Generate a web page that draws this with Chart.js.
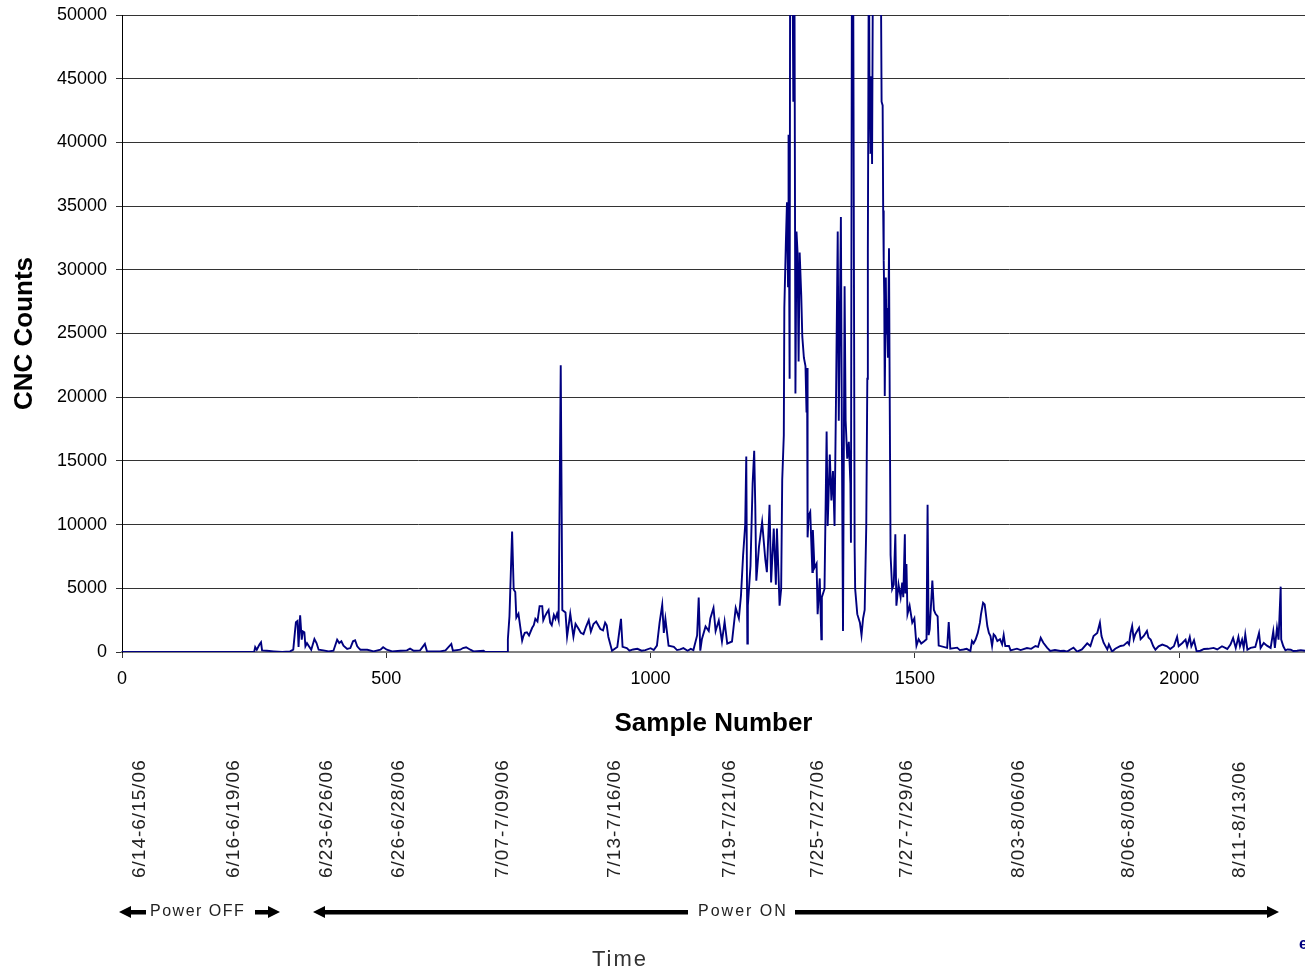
<!DOCTYPE html>
<html>
<head>
<meta charset="utf-8">
<title>CNC Counts</title>
<script src="https://cdn.jsdelivr.net/npm/chart.js@4/dist/chart.umd.min.js"></script>
<style>
  body { margin: 0; background: #fff; }
  #canvas { display: block; }
</style>
</head>
<body>
<canvas id="canvas" width="1305" height="971"></canvas>
<script>
//Datos: número de muestra y cuentas CNC
var muestras = [
  0, 250, 252, 255, 260, 263, 265, 274, 287, 303, 318, 324, 327, 329, 332, 334, 337, 340, 342, 345,
  347, 350, 353, 358, 364, 368, 372, 381, 391, 400, 407, 411, 415, 419, 426, 432, 437, 441, 445, 448,
  451, 464, 476, 489, 494, 501, 511, 527, 539, 545, 552, 564, 573, 577, 602, 612, 623, 626, 640, 645,
  651, 659, 665, 684, 687, 729, 730, 733, 738, 741, 744, 746, 750, 755, 759, 766, 776, 782, 790, 795,
  797, 804, 810, 817, 823, 826, 830, 833, 839, 842, 848, 854, 864, 873, 883, 892, 905, 914, 920, 927,
  937, 944, 947, 955, 967, 990, 1012, 1017, 1022, 1025, 1028, 1034, 1044, 1056, 1081, 1088, 1091, 1094, 1097, 1104,
  1110, 1113, 1119, 1123, 1129, 1135, 1140, 1145, 1154, 1161, 1167, 1171, 1175, 1179, 1181, 1183, 1184, 1189, 1193, 1196,
  1198, 1200, 1205, 1211, 1217, 1220, 1225, 1228, 1233, 1237, 1239, 1244, 1247, 1249, 1252, 1253, 1256, 1258, 1260, 1261,
  1263, 1264, 1268, 1270, 1272, 1274, 1276, 1278, 1280, 1282, 1285, 1287, 1290, 1293, 1295, 1296, 1297, 1299, 1302, 1306,
  1307, 1310, 1314, 1316, 1320, 1323, 1324, 1329, 1333, 1335, 1339, 1342, 1345, 1348, 1351, 1354, 1356, 1360, 1362, 1364,
  1367, 1369, 1372, 1375, 1378, 1379, 1381, 1383, 1386, 1387, 1391, 1396, 1399, 1402, 1405, 1408, 1410, 1411, 1413, 1414,
  1416, 1417, 1419, 1421, 1435, 1437, 1439, 1440, 1441, 1442, 1443, 1445, 1446, 1447, 1449, 1451, 1452, 1454, 1457, 1460,
  1463, 1465, 1469, 1473, 1476, 1478, 1481, 1482, 1484, 1486, 1490, 1495, 1499, 1503, 1507, 1512, 1517, 1522, 1524, 1526,
  1528, 1533, 1536, 1539, 1543, 1545, 1561, 1564, 1567, 1580, 1592, 1605, 1608, 1611, 1615, 1619, 1623, 1625, 1629, 1632,
  1634, 1637, 1640, 1643, 1646, 1649, 1652, 1656, 1661, 1665, 1668, 1671, 1678, 1681, 1693, 1712, 1728, 1738, 1743, 1750,
  1756, 1775, 1788, 1800, 1807, 1816, 1826, 1832, 1838, 1845, 1850, 1853, 1857, 1864, 1867, 1873, 1879, 1889, 1895, 1902,
  1905, 1908, 1911, 1914, 1917, 1924, 1927, 1933, 1939, 1942, 1946, 1951, 1955, 1961, 1968, 1977, 1983, 1990, 1996, 1999,
  2006, 2012, 2015, 2020, 2023, 2028, 2033, 2047, 2065, 2081, 2091, 2097, 2102, 2107, 2112, 2115, 2119, 2122, 2125, 2129,
  2135, 2144, 2151, 2154, 2160, 2166, 2173, 2178, 2181, 2185, 2188, 2192, 2193, 2197, 2201, 2211, 2223, 2238
];

var cuentasCNC = [
  0, 0, 390, 180, 580, 760, 130, 100, 50, 0, 50, 180, 1500, 2330, 2440, 400, 2880, 970, 1620, 1550,
  450, 700, 500, 180, 1020, 700, 180, 130, 50, 100, 970, 700, 840, 500, 240, 310, 840, 920, 450, 310,
  180, 180, 50, 180, 370, 180, 50, 100, 130, 260, 100, 130, 630, 50, 50, 130, 630, 100, 180, 310,
  370, 180, 50, 100, 0, 0, 1000, 2800, 9450, 4900, 4700, 2700, 3000, 1500, 1200, 1550, 1900, 2600, 3600, 3600,
  2500, 3100, 2300, 2900, 3000, 2500, 22500, 3300, 3100, 1200, 3000, 1200, 1800, 1400, 2500, 2200, 1800, 2300, 1200, 100,
  400, 2600, 400, 300, 200, 150, 500, 2300, 3700, 1500, 2600, 500, 400, 200, 150, 1300, 4270, 100, 1000, 2000,
  1650, 2640, 3460, 1650, 2475, 825, 2375, 660, 825, 3460, 2640, 4450, 7600, 10000, 15350, 660, 3630, 6770, 13200, 15800,
  11550, 5600, 8250, 10200, 7260, 6270, 11550, 5450, 9700, 5280, 9700, 3630, 4950, 13500, 17000, 27000, 32300, 35300, 28700, 40600,
  21450, 56000, 58000, 43200, 56000, 20300, 33000, 31350, 22800, 31350, 28000, 24750, 23100, 22440, 18800, 22300, 9000, 10700, 11000, 6270,
  9570, 6600, 6930, 2970, 5775, 1000, 4300, 4950, 17300, 9900, 15500, 11900, 14200, 9900, 20800, 33000, 18150, 34150, 15800, 1650,
  28700, 18150, 15180, 16500, 13200, 8580, 58000, 58000, 8250, 4950, 2970, 2300, 1320, 2640, 3300, 9900, 21450, 31350, 58000, 45200,
  39100, 45200, 38300, 58000, 58000, 43200, 42900, 34650, 30700, 28000, 20100, 29400, 25000, 27000, 23100, 31700, 22800, 7600, 4950, 5300,
  9240, 3630, 5300, 4300, 5450, 4300, 9240, 4600, 6900, 2970, 3630, 2300, 2640, 500, 1000, 660, 825, 1000, 11550, 1320,
  1800, 5600, 3300, 3000, 2800, 500, 330, 2350, 260, 340, 200, 80, 860, 680, 1000, 1500, 2300, 2950, 3860, 3730,
  3080, 2040, 1500, 1250, 470, 1380, 1250, 860, 1000, 600, 1330, 470, 470, 130, 260, 310, 470, 1120, 730, 340,
  80, 80, 30, 340, 30, 200, 680, 470, 1250, 1500, 2300, 1250, 730, 200, 600, 30, 260, 470, 520, 780,
  600, 1500, 2040, 1000, 1400, 1900, 1000, 1260, 1650, 1130, 970, 450, 180, 450, 580, 450, 240, 450, 1180, 450,
  710, 970, 450, 1180, 450, 920, 50, 240, 320, 450, 240, 580, 1100, 320, 1180, 450, 970, 320, 1370, 180,
  320, 400, 1500, 320, 710, 500, 320, 1630, 320, 1890, 970, 5130, 970, 450, 130, 180, 100, 100
];

//Lecturas adicionales del ruido de fondo (se mezclan y ordenan con las anteriores)
var muestrasRuido = [
  757, 762, 770, 779, 786, 800, 807, 813, 820, 858, 868, 878, 887, 897, 910, 917,
  960, 975, 983, 1000, 1006, 1050, 1062, 1070, 1076, 1585, 1598, 1700, 1720, 1733,
  1765, 1782, 1794, 2040, 2055, 2072, 2205, 2216, 2230
];
var cuentasRuido = [
  900, 1500, 1300, 2100, 2400, 2800, 3300, 2100, 2600, 2200, 1500, 2000, 1600, 2400, 1700, 2100,
  100, 250, 100, 300, 150, 150, 300, 100, 250, 150, 250, 150, 250, 400,
  150, 100, 200, 100, 250, 200, 200, 80, 150
];

//Etiquetas de fecha bajo el eje (posición aproximada en número de muestra)
var fechas = ['6/14-6/15/06', '6/16-6/19/06', '6/23-6/26/06', '6/26-6/28/06', '7/07-7/09/06', '7/13-7/16/06',
  '7/19-7/21/06', '7/25-7/27/06', '7/27-7/29/06', '8/03-8/06/06', '8/06-8/08/06', '8/11-8/13/06'];
var fechasMuestra = [33, 212, 387, 524, 720, 933, 1149, 1317, 1484, 1696, 1904, 2114];

var ticksY = [0, 5000, 10000, 15000, 20000, 25000, 30000, 35000, 40000, 45000, 50000];
var ticksX = [0, 500, 1000, 1500, 2000];

var puntos = [];
for (var i = 0; i < muestras.length; i++) {
  puntos.push({ x: muestras[i], y: cuentasCNC[i] });
}
for (var j = 0; j < muestrasRuido.length; j++) {
  puntos.push({ x: muestrasRuido[j], y: cuentasRuido[j] });
}
puntos.sort(function(a, b) { return a.x - b.x; });

//Dibuja una flecha horizontal gruesa con punta
function flecha(ctx, x1, x2, y, punta) {
  ctx.fillStyle = '#000';
  ctx.fillRect(Math.min(x1, x2), y - 2, Math.abs(x2 - x1), 4.5);
  if (punta) {
    var dir = x2 > x1 ? 1 : -1;
    ctx.beginPath();
    ctx.moveTo(x2 + dir * 12, y);
    ctx.lineTo(x2, y - 6);
    ctx.lineTo(x2, y + 6);
    ctx.closePath();
    ctx.fill();
  }
}

//Plugin para el texto y flechas de debajo del gráfico
var pieGrafico = {
  id: 'pieGrafico',
  afterDraw: function(chart) {
    var ctx = chart.ctx;
    var escalaX = chart.scales.x;
    ctx.save();
    ctx.fillStyle = '#222';
    ctx.font = '19px "Liberation Sans", Arial, sans-serif';
    ctx.letterSpacing = '1px';
    ctx.textAlign = 'left';
    ctx.textBaseline = 'middle';
    for (var i = 0; i < fechas.length; i++) {
      var px = escalaX.getPixelForValue(fechasMuestra[i]);
      ctx.save();
      ctx.translate(px, 878);
      ctx.rotate(-Math.PI / 2);
      ctx.fillText(fechas[i], 0, 0);
      ctx.restore();
    }

    //Power OFF / Power ON
    var yF = 912;
    flecha(ctx, 146, 131, yF, true);
    flecha(ctx, 255, 268, yF, true);
    flecha(ctx, 688, 325, yF, true);
    flecha(ctx, 795, 1267, yF, true);
    ctx.fillStyle = '#222';
    ctx.font = '16px "Liberation Sans", Arial, sans-serif';
    ctx.letterSpacing = '1.5px';
    ctx.fillText('Power OFF', 150, yF);
    ctx.letterSpacing = '2px';
    ctx.fillText('Power ON', 698, yF);

    ctx.font = '22px "Liberation Sans", Arial, sans-serif';
    ctx.letterSpacing = '2px';
    ctx.textAlign = 'center';
    ctx.fillStyle = '#333';
    ctx.fillText('Time', 620, 960);

    ctx.letterSpacing = '0px';
    ctx.font = 'bold 16px "Liberation Sans", Arial, sans-serif';
    ctx.fillStyle = '#000080';
    ctx.textAlign = 'left';
    ctx.fillText('e', 1299, 945);
    ctx.restore();
  }
};

//Los ticks se muestran sin separador de miles
function sinSeparador(valor) {
  return String(valor);
}

var ctx = document.getElementById('canvas').getContext('2d');
window.miGrafico = new Chart(ctx, {
  type: 'line',
  data: {
    datasets: [{
      label: 'CNC Counts',
      data: puntos,
      borderColor: '#000080',
      borderWidth: 1.9,
      pointRadius: 0,
      tension: 0,
      fill: false
    }]
  },
  options: {
    responsive: false,
    animation: false,
    layout: { padding: { top: 15, left: 0, right: 0, bottom: 232 } },
    plugins: {
      legend: { display: false },
      tooltip: { enabled: false }
    },
    scales: {
      x: {
        type: 'linear',
        min: 0,
        max: 2238,
        afterFit: function(scale) {
          scale.height = 87;
          scale.paddingLeft = 0;
          scale.paddingRight = 0;
        },
        afterBuildTicks: function(scale) {
          scale.ticks = ticksX.map(function(v) { return { value: v }; });
        },
        ticks: {
          color: '#000',
          padding: 10,
          maxRotation: 0,
          callback: sinSeparador,
          font: { family: '"Liberation Sans", Arial, sans-serif', size: 18 }
        },
        grid: { drawOnChartArea: false, drawTicks: true, tickLength: 6, color: '#333' },
        border: { color: '#808080', width: 2 },
        title: {
          display: true,
          text: 'Sample Number',
          color: '#000',
          padding: 0,
          font: { family: '"Liberation Sans", Arial, sans-serif', size: 26, weight: 'bold' }
        }
      },
      y: {
        min: 0,
        max: 50000,
        afterFit: function(scale) {
          scale.width = 122;
          scale.paddingTop = 0;
          scale.paddingBottom = 0;
        },
        afterBuildTicks: function(scale) {
          scale.ticks = ticksY.map(function(v) { return { value: v }; });
        },
        ticks: {
          color: '#000',
          padding: 9,
          callback: sinSeparador,
          font: { family: '"Liberation Sans", Arial, sans-serif', size: 18 }
        },
        grid: { color: '#333', lineWidth: 1, tickLength: 6 },
        border: { color: '#000', width: 1 },
        title: {
          display: true,
          text: 'CNC Counts',
          color: '#000',
          padding: { top: 9, bottom: 0 },
          font: { family: '"Liberation Sans", Arial, sans-serif', size: 26, weight: 'bold' }
        }
      }
    }
  },
  plugins: [pieGrafico]
});
</script>
</body>
</html>
